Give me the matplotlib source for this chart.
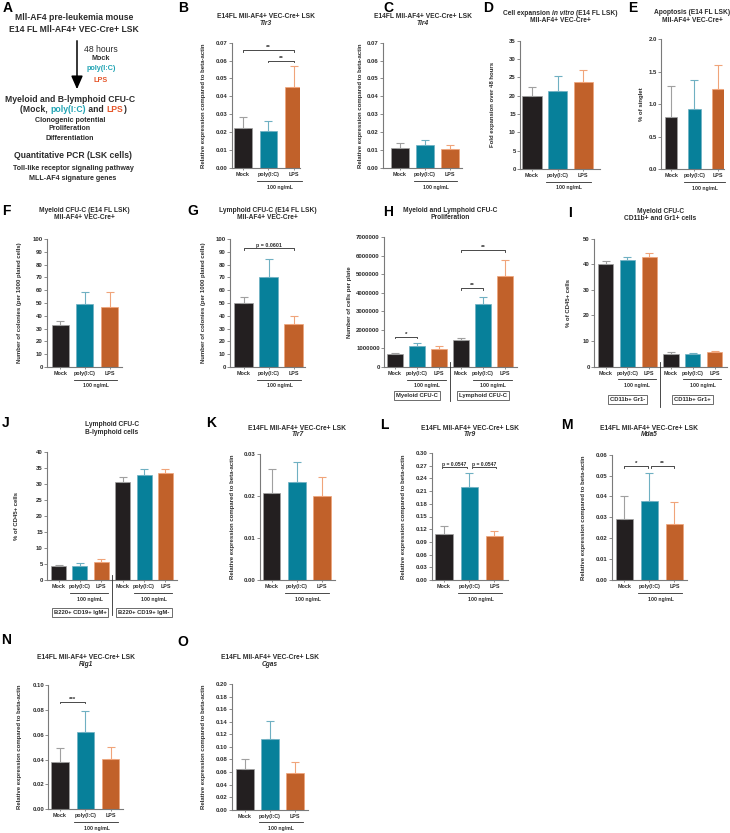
import numpy as np
import matplotlib.pyplot as plt
from matplotlib.lines import Line2D
from matplotlib.transforms import blended_transform_factory
from matplotlib.ticker import FormatStrFormatter

plt.rcParams['font.family'] = ['Liberation Sans', 'DejaVu Sans']
plt.rcParams['font.weight'] = 'bold'

# ---- data ----
groups = ["Mock", "poly(I:C)", "LPS"]

tlr3_mean = [0.0223, 0.0208, 0.0450]
tlr3_err = [0.0060, 0.0052, 0.0120]
tlr4_mean = [0.0110, 0.0131, 0.0108]
tlr4_err = [0.0028, 0.0024, 0.0020]
expansion_mean = [19.9, 21.4, 23.6]
expansion_err = [2.5, 3.9, 3.3]
apoptosis_mean = [0.80, 0.92, 1.23]
apoptosis_err = [0.48, 0.45, 0.38]
myeloid_col_mean = [32.5, 49.0, 46.8]
myeloid_col_err = [3.7, 9.8, 11.5]
lymphoid_col_mean = [50.2, 70.2, 33.3]
lymphoid_col_err = [4.2, 13.8, 6.3]
prolif_mean = [680000, 1150000, 950000, 1440000, 3380000, 4890000]
prolif_err = [60000, 140000, 160000, 110000, 380000, 880000]
myeloid_diff_mean = [39.9, 41.6, 42.9, 5.1, 5.0, 5.7]
myeloid_diff_err = [1.3, 1.3, 1.3, 0.5, 0.2, 0.5]
lymphoid_diff_mean = [4.4, 4.5, 5.6, 30.7, 32.8, 33.3]
lymphoid_diff_err = [0.2, 0.7, 0.9, 1.4, 1.8, 1.3]
tlr7_mean = [0.0208, 0.0233, 0.0200]
tlr7_err = [0.0056, 0.0049, 0.0045]
tlr9_mean = [0.108, 0.2205, 0.105]
tlr9_err = [0.020, 0.0315, 0.010]
mda5_mean = [0.0292, 0.0380, 0.0268]
mda5_err = [0.0110, 0.0133, 0.0105]
rig1_mean = [0.0378, 0.0624, 0.0402]
rig1_err = [0.0112, 0.0164, 0.0097]
cgas_mean = [0.0652, 0.1125, 0.0584]
cgas_err = [0.0158, 0.0291, 0.0170]

BAR = ["#231f20", "#07809a", "#c1612a"]
ERR = ["#a0a0a0", "#6fb0c2", "#f0a47a"]
TXT = "#2b2b2b"
SPINE = "#7a7a7a"
REL = "Relative expression compared to beta-actin"
LINE1 = "E14FL Mll-AF4+ VEC-Cre+ LSK"

W, H = 730, 833
fig = plt.figure(figsize=(W / 100, H / 100), dpi=100)
fig.patch.set_facecolor('white')
renderer = fig.canvas.get_renderer()


def ftext(x, y, s, **kw):
    kw.setdefault('ha', 'center')
    kw.setdefault('va', 'center')
    kw.setdefault('fontsize', 4.8)
    kw.setdefault('color', TXT)
    return fig.text(x / W, 1 - y / H, s, **kw)


def pieces_line(xc, y, pieces, size, weight='bold'):
    # draw a centred line made of differently styled pieces
    objs, widths = [], []
    for s, col, style in pieces:
        t = ftext(0, y, s, ha='left', fontsize=size, color=col, style=style, fontweight=weight)
        probe = ftext(0, y, s + "x", fontsize=size, style=style, fontweight=weight)
        px = ftext(0, y, "x", fontsize=size, style=style, fontweight=weight)
        w = probe.get_window_extent(renderer).width - px.get_window_extent(renderer).width
        probe.remove()
        px.remove()
        objs.append(t)
        widths.append(w)
    x = xc - sum(widths) / 2
    for t, w in zip(objs, widths):
        t.set_x(x / W)
        x += w


def panel(rect, means, errs, ymax, ystep, fmt, xlim, width, ylabel, ylabel_x):
    l, t, r, b = rect
    ax = fig.add_axes([l / W, 1 - b / H, (r - l) / W, (b - t) / H])
    pos = np.arange(len(means))
    cols = [BAR[i % 3] for i in pos]
    ecols = [ERR[i % 3] for i in pos]
    ax.bar(pos, means, width=width, color=cols, edgecolor=ecols, linewidth=0.5, zorder=2)
    for p, m, e, c in zip(pos, means, errs, ecols):
        ax.errorbar(p, m, yerr=[[0], [e]], fmt='none', ecolor=c, elinewidth=0.8,
                    capsize=3, capthick=0.8, zorder=3)
    ax.set_xlim(*xlim)
    ax.set_ylim(0, ymax)
    ax.set_yticks(np.arange(0, ymax + ystep / 2, ystep))
    ax.yaxis.set_major_formatter(FormatStrFormatter(fmt))
    ax.set_xticks(pos, [groups[i % 3] for i in pos])
    for side in ['top', 'right']:
        ax.spines[side].set_visible(False)
    for side in ['left', 'bottom']:
        ax.spines[side].set_color(SPINE)
        ax.spines[side].set_linewidth(0.8)
    ax.tick_params(axis='y', labelsize=4.3, length=2, width=0.6, color=SPINE, pad=1, labelcolor=TXT)
    ax.tick_params(axis='x', labelsize=3.9, length=1.5, width=0.6, color=SPINE, pad=1.5, labelcolor=TXT)
    ftext(ylabel_x, (t + b) / 2, ylabel, rotation=90, fontsize=4.3)
    tr = blended_transform_factory(ax.transData, fig.transFigure)
    for g in range(len(means) // 3):
        x0 = 3 * g
        yl = 1 - (b + 12.5) / H
        fig.add_artist(Line2D([x0 + 0.55, x0 + 2.3], [yl, yl], transform=tr, color=TXT, lw=0.6))
        fig.text(x0 + 1.45, 1 - (b + 19) / H, "100 ng/mL", transform=tr, ha='center',
                 va='center', fontsize=3.7, color=TXT)
    ax._rect = rect
    return ax


def title(ax, y1, y2, line1, line2, italic2=False):
    l, t, r, b = ax._rect
    xc = (l + r) / 2
    ftext(xc, y1, line1)
    ftext(xc, y2, line2, style='italic' if italic2 else 'normal')


def bracket(ax, x1, x2, y, label, size=4.5, drop=None, gap=0.0):
    ymax = ax.get_ylim()[1]
    d = ymax * 0.012 if drop is None else drop
    ax.plot([x1, x1, x2, x2], [y - d, y, y, y - d], color=TXT, lw=0.6, clip_on=False, zorder=4)
    ax.text((x1 + x2) / 2, y + gap * ymax, label, ha='center', va='bottom', fontsize=size, color=TXT)


def separator(ax, x, top_px, bot_px):
    tr = blended_transform_factory(ax.transData, fig.transFigure)
    fig.add_artist(Line2D([x, x], [1 - top_px / H, 1 - bot_px / H], transform=tr, color=TXT, lw=0.6))


def boxes(ax, xs, y_px, labels):
    tr = blended_transform_factory(ax.transData, fig.transFigure)
    for x, s in zip(xs, labels):
        fig.text(x, 1 - y_px / H, s, transform=tr, ha='center', va='center', fontsize=4.2,
                 color=TXT, bbox=dict(boxstyle='square,pad=0.35', fc='white', ec='#555555', lw=0.6))


# ---- panel A ----
pieces_line(74, 17, [("Mll-AF4 pre-leukemia mouse", TXT, 'normal')], 6.2)
pieces_line(74, 29, [("E14 FL Mll-AF4+ VEC-Cre+ LSK", TXT, 'normal')], 6.2)
fig.add_artist(plt.Annotation("", xy=(77, H - 92), xytext=(77, H - 38), xycoords='figure pixels',
                              textcoords='figure pixels',
                              arrowprops=dict(arrowstyle='-|>,head_length=0.8,head_width=0.35',
                                              color='black', lw=1.1)))
ftext(101, 50, "48 hours", fontsize=6.2, fontweight='normal')
ftext(101, 59, "Mock", fontsize=5.2)
ftext(101, 69, "poly(I:C)", fontsize=5.2, color="#1fa3b3")
ftext(101, 80, "LPS", fontsize=5.2, color="#e5562a")
pieces_line(70, 99, [("Myeloid and B-lymphoid CFU-C", TXT, 'normal')], 6.2)
pieces_line(73, 110, [("(Mock, ", TXT, 'normal'), ("poly(I:C)", "#1fa3b3", 'normal'),
                      (" and ", TXT, 'normal'), ("LPS", "#e5562a", 'normal'), (")", TXT, 'normal')], 6.2)
ftext(70, 120, "Clonogenic potential", fontsize=5.1)
ftext(70, 129, "Proliferation", fontsize=5.1)
ftext(70, 138, "Differentiation", fontsize=5.1)
ftext(73, 156, "Quantitative PCR (LSK cells)", fontsize=6.2)
ftext(73, 168, "Toll-like receptor signaling pathway", fontsize=5.1)
ftext(73, 179, "MLL-AF4 signature genes", fontsize=5.1)

# ---- row 1 ----
axB = panel((232, 42.7, 300, 168), tlr3_mean, tlr3_err, 0.07, 0.01, '%.2f', (-0.43, 2.24), 0.7, REL, 203)
title(axB, 17, 23.5, LINE1, "Tlr3", True)
bracket(axB, 0, 2, 0.0659, "**")
bracket(axB, 1, 2, 0.0598, "**")

axC = panel((383, 42.7, 462, 168), tlr4_mean, tlr4_err, 0.07, 0.01, '%.2f', (-0.68, 2.48), 0.72, REL, 360.5)
title(axC, 17, 23.5, LINE1, "Tlr4", True)

axD = panel((520, 40.7, 600, 169), expansion_mean, expansion_err, 35, 5, '%d', (-0.47, 2.66), 0.75,
            "Fold expansion over 48 hours", 493)
pieces_line(560, 13.3, [("Cell expansion ", TXT, 'normal'), ("in vitro", TXT, 'italic'),
                        (" (E14 FL LSK)", TXT, 'normal')], 4.8)
ftext(560, 20.7, "Mll-AF4+ VEC-Cre+")

axE = panel((661, 39.3, 724, 169.3), apoptosis_mean, apoptosis_err, 2.0, 0.5, '%.1f', (-0.43, 2.26), 0.52,
            "% of singlet", 641)
title(axE, 12.7, 20, "Apoptosis (E14 FL LSK)", "Mll-AF4+ VEC-Cre+")

# ---- row 2 ----
axF = panel((47, 239, 122, 367), myeloid_col_mean, myeloid_col_err, 100, 10, '%d', (-0.53, 2.5), 0.69,
            "Number of colonies (per 1000 plated cells)", 20)
title(axF, 210.7, 217.3, "Myeloid CFU-C (E14 FL LSK)", "Mll-AF4+ VEC-Cre+")

axG = panel((230, 239, 305, 367), lymphoid_col_mean, lymphoid_col_err, 100, 10, '%d', (-0.54, 2.46), 0.74,
            "Number of colonies (per 1000 plated cells)", 203)
title(axG, 210.7, 217.3, "Lymphoid CFU-C (E14 FL LSK)", "Mll-AF4+ VEC-Cre+")
bracket(axG, 0, 2, 92.9, "p = 0.0601", size=3.8)

axH = panel((384, 237, 517, 367), prolif_mean, prolif_err, 7000000, 1000000, '%d', (-0.5, 5.55), 0.72,
            "Number of cells per plate", 350)
title(axH, 210.7, 217.3, "Myeloid and Lymphoid CFU-C", "Proliferation")
bracket(axH, 0, 1, 1630000, "*")
bracket(axH, 3, 4, 4240000, "**")
bracket(axH, 3, 5, 6300000, "**")
separator(axH, 2.5, 362, 401)
boxes(axH, [1, 4], 395.7, ["Myeloid CFU-C", "Lymphoid CFU-C"])

axI = panel((594, 238.6, 727, 366.7), myeloid_diff_mean, myeloid_diff_err, 50, 10, '%d', (-0.53, 5.57), 0.7,
            "% of CD45+ cells", 568)
title(axI, 211.7, 218.3, "Myeloid CFU-C", "CD11b+ and Gr1+ cells")
separator(axI, 2.5, 361.7, 406.7)
boxes(axI, [1, 4], 399.3, ["CD11b+ Gr1-", "CD11b+ Gr1+"])

# ---- row 3 ----
axJ = panel((47, 452, 177, 580), lymphoid_diff_mean, lymphoid_diff_err, 40, 5, '%d', (-0.54, 5.54), 0.7,
            "% of CD45+ cells", 17)
title(axJ, 425, 432.7, "Lymphoid CFU-C", "B-lymphoid cells")
separator(axJ, 2.5, 575, 615)
boxes(axJ, [1, 4], 612.3, ["B220+ CD19+ IgM+", "B220+ CD19+ IgM-"])

axK = panel((260, 454, 335, 580), tlr7_mean, tlr7_err, 0.03, 0.01, '%.2f', (-0.46, 2.52), 0.7, REL, 232)
title(axK, 428, 435, LINE1, "Tlr7", True)

axL = panel((431.7, 453, 508, 580), tlr9_mean, tlr9_err, 0.30, 0.03, '%.2f', (-0.49, 2.54), 0.68, REL, 404)
title(axL, 428, 435, LINE1, "Tlr9", True)
bracket(axL, -0.1, 0.9, 0.2676, "p = 0.0547", size=3.6, gap=-0.004)
bracket(axL, 1.1, 2.05, 0.2676, "p = 0.0547", size=3.6, gap=-0.004)

axM = panel((611.7, 454.7, 687, 580), mda5_mean, mda5_err, 0.06, 0.01, '%.2f', (-0.51, 2.5), 0.7, REL, 584)
title(axM, 428, 435, LINE1, "Mda5", True)
bracket(axM, 0, 0.95, 0.0545, "*")
bracket(axM, 1.05, 2, 0.0545, "**")

# ---- row 4 ----
axN = panel((48.3, 685, 123, 809.3), rig1_mean, rig1_err, 0.10, 0.02, '%.2f', (-0.46, 2.49), 0.68, REL, 20)
title(axN, 657.7, 665, LINE1, "Rig1", True)
bracket(axN, 0, 1, 0.0866, "***")

axO = panel((231.7, 684, 308, 809.7), cgas_mean, cgas_err, 0.20, 0.02, '%.2f', (-0.51, 2.5), 0.7, REL, 203)
title(axO, 657.7, 665, LINE1, "Cgas", True)

# ---- panel letters ----
letters = {"A": (8, 8), "B": (183, 8), "C": (388, 8), "D": (488, 8), "E": (633, 8),
           "F": (6, 211), "G": (193, 211), "H": (388, 212), "I": (570, 213),
           "J": (6, 423), "K": (211, 423), "L": (384, 425), "M": (567, 425),
           "N": (6, 640), "O": (183, 642)}
for k, (x, y) in letters.items():
    ftext(x, y, k, fontsize=10, color='black')

fig.savefig("out.png", dpi=100, facecolor='white')
